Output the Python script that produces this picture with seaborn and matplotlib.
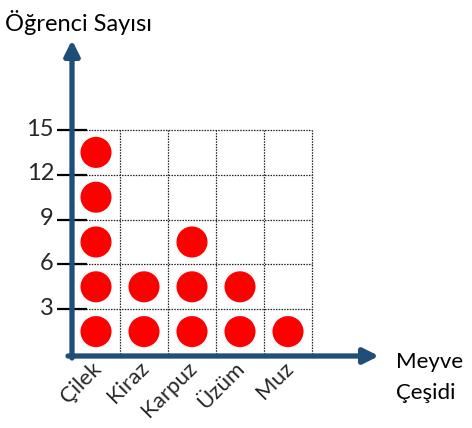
import matplotlib
matplotlib.use('Agg')
import matplotlib.pyplot as plt
import seaborn as sns
import pandas as pd
from matplotlib.transforms import ScaledTranslation

categories = ['Çilek', 'Kiraz', 'Karpuz', 'Üzüm', 'Muz']
students = [15, 6, 9, 6, 3]
per_symbol = 3
y_ticks = [3, 6, 9, 12, 15]
y_tick_labels = ['3', '6', '9', '12', '15']
y_title = 'Öğrenci Sayısı'
x_title = ['Meyve', 'Çeşidi']

rows = []
for cat, n in zip(categories, students):
    for k in range(n // per_symbol):
        rows.append({'Meyve': cat, 'Öğrenci': per_symbol * k + per_symbol / 2})
df = pd.DataFrame(rows)

sns.set_theme(style='white')
plt.rcParams['font.family'] = ['Lato', 'DejaVu Sans']

W, H = 472, 428
fig = plt.figure(figsize=(W / 100, H / 100), dpi=100)
L, R, T, B = 72, 312, 130, 354
ax = fig.add_axes([L / W, 1 - B / H, (R - L) / W, (B - T) / H])

sns.scatterplot(data=df, x='Meyve', y='Öğrenci', s=500, color='#FF0000',
                edgecolor='none', ax=ax, zorder=3, legend=False)

ax.set_xlim(-0.5, len(categories) - 0.5)
ax.set_ylim(0, max(y_ticks))
ax.set_xlabel('')
ax.set_ylabel('')
for s in ax.spines.values():
    s.set_visible(False)

ax.set_xticks(range(len(categories)))
ax.set_xticklabels(categories, rotation=45, ha='right', va='top', fontsize=16)
ax.set_xticks([i - 0.5 for i in range(len(categories) + 1)], minor=True)
ax.set_yticks(y_ticks)
ax.set_yticklabels(y_tick_labels, fontsize=17)
ax.tick_params(axis='x', which='both', length=0, pad=3)
ax.tick_params(axis='y', which='major', direction='inout', length=22,
               width=1.6, color='black', pad=2, left=True)
ax.tick_params(axis='y', which='minor', length=0)

off = ScaledTranslation(9 / 100, 0, fig.dpi_scale_trans)
for lab in ax.get_xticklabels():
    lab.set_transform(lab.get_transform() + off)
offy = ScaledTranslation(0, 3 / 100, fig.dpi_scale_trans)
for lab in ax.get_yticklabels():
    lab.set_transform(lab.get_transform() + offy)

gstyle = dict(color='#222222', lw=0.9, ls=(0, (1.2, 1.0)))
ax.grid(True, which='minor', axis='x', **gstyle)
ax.grid(True, which='major', axis='y', **gstyle)
ax.grid(False, which='major', axis='x')
for t in ax.xaxis.get_minor_ticks() + ax.yaxis.get_major_ticks():
    t.gridline.set_clip_on(False)
ax.set_axisbelow(True)

blue = '#1F4E79'
ap = dict(arrowstyle='-|>,head_length=9,head_width=4.5', mutation_scale=1,
          lw=3.8, color=blue, shrinkA=0, shrinkB=0)
ax.annotate('', xy=(0, (B - 40) / (B - T)), xytext=(0, (B - 358) / (B - T)),
            xycoords='axes fraction', textcoords='axes fraction',
            arrowprops=ap, annotation_clip=False, zorder=5)
ax.annotate('', xy=((379 - L) / (R - L), (B - 356) / (B - T)),
            xytext=((68 - L) / (R - L), (B - 356) / (B - T)),
            xycoords='axes fraction', textcoords='axes fraction',
            arrowprops=ap, annotation_clip=False, zorder=5)

fig.text(5 / W, 1 - 31 / H, y_title, ha='left', va='baseline', fontsize=17,
         color='black')
fig.text(396 / W, 1 - 368 / H, x_title[0], ha='left', va='baseline',
         fontsize=16, color='black')
fig.text(396 / W, 1 - 399 / H, x_title[1], ha='left', va='baseline',
         fontsize=16, color='black')

fig.savefig('out.png', dpi=100)
